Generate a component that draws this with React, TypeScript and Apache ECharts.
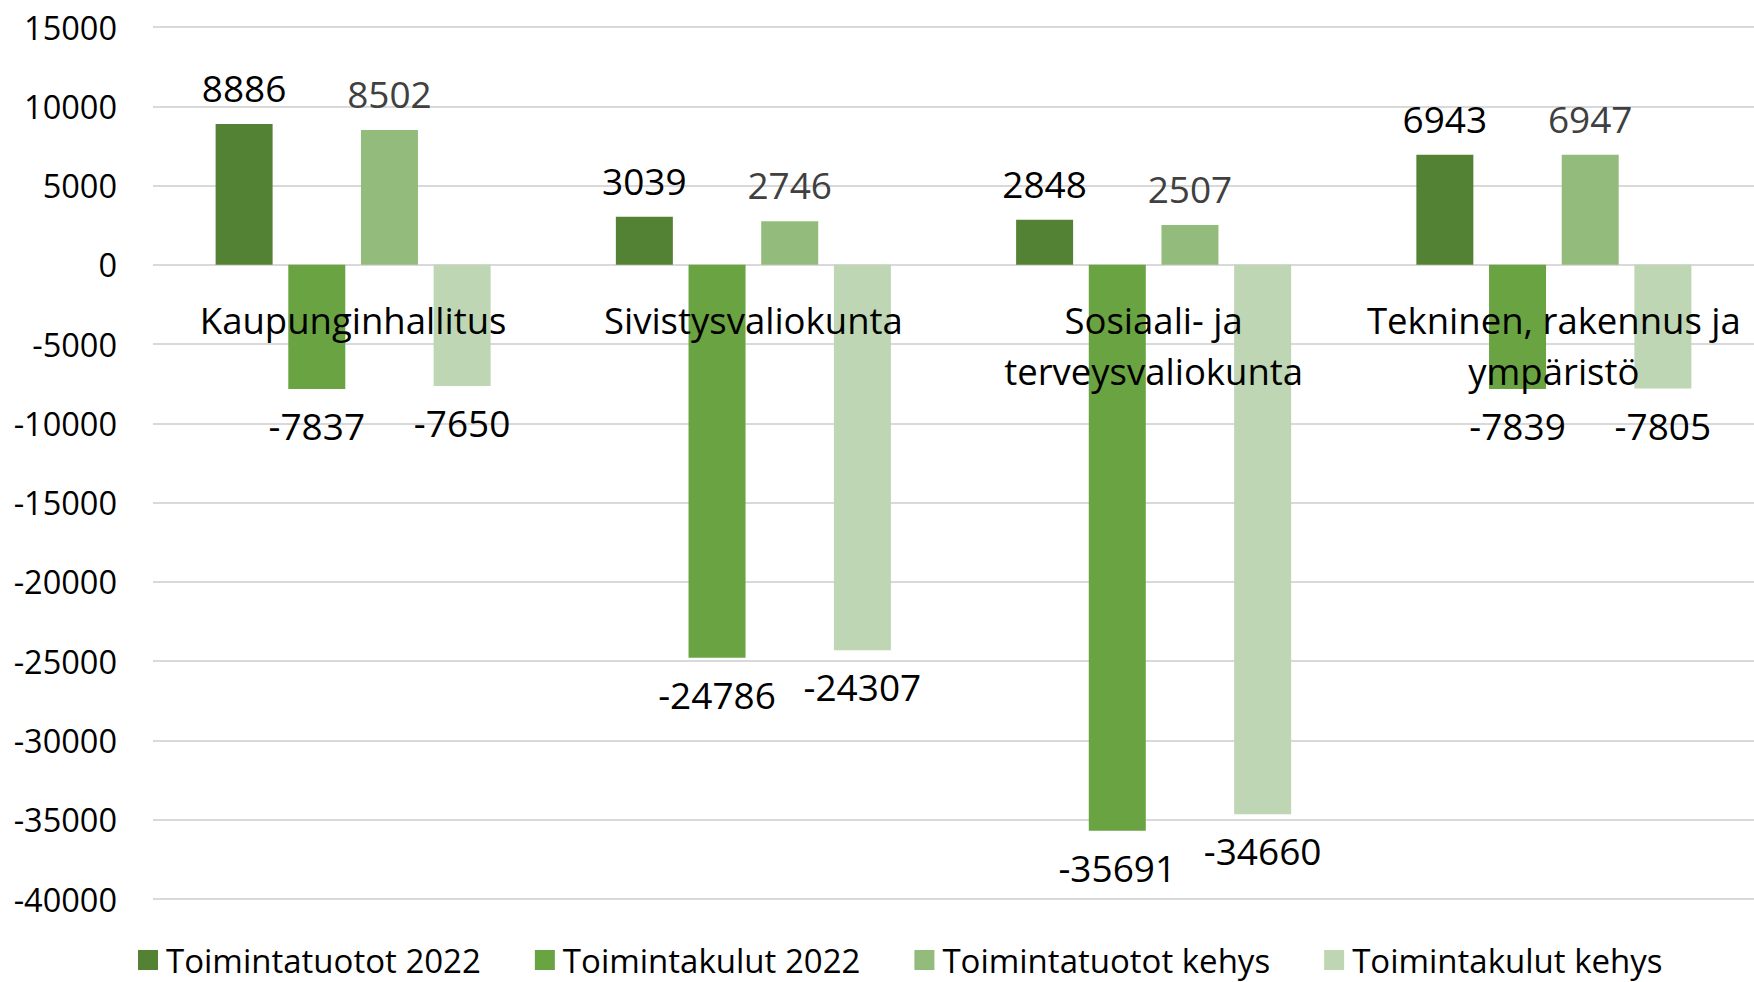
import React, { useEffect, useRef } from "react";
import * as echarts from "echarts";

const categories = [
  "Kaupunginhallitus",
  "Sivistysvaliokunta",
  "Sosiaali- ja\nterveysvaliokunta",
  "Tekninen, rakennus ja\nympäristö",
];
const seriesNames = [
  "Toimintatuotot 2022",
  "Toimintakulut 2022",
  "Toimintatuotot kehys",
  "Toimintakulut kehys",
];
const tuotot2022 = [8886, 3039, 2848, 6943];
const kulut2022 = [-7837, -24786, -35691, -7839];
const tuototKehys = [8502, 2746, 2507, 6947];
const kulutKehys = [-7650, -24307, -34660, -7805];
const yTicks = { min: -40000, max: 15000, interval: 5000 };

const colors = ["#548235", "#6AA342", "#93BC7C", "#BED6B3"];
const labelColors = ["#000000", "#000000", "#404040", "#000000"];
const FONT = "Open Sans";

export default function App() {
  const ref = useRef<HTMLDivElement>(null);
  useEffect(() => {
    if (!ref.current) return;
    const chart = echarts.init(ref.current, undefined, { renderer: "svg" });
    const datasets = [tuotot2022, kulut2022, tuototKehys, kulutKehys];
    const barSeries = datasets.map((d, i) => ({
      name: seriesNames[i],
      type: "bar",
      data: d,
      z: 2,
      barWidth: 57,
      barGap: "27.5%",
      itemStyle: { color: colors[i] },
      label: {
        show: true,
        position: i % 2 === 0 ? "top" : "bottom",
        distance: 18,
        fontFamily: FONT,
        fontSize: 37,
        lineHeight: 37,
        color: labelColors[i],
      },
    }));
    const categoryLabelSeries = {
      name: "categoryLabels",
      type: "custom",
      z: 10,
      silent: true,
      data: categories.map((_, i) => [i, 0]),
      encode: { x: 0, y: 1 },
      renderItem: (params: any, api: any) => {
        const p = api.coord([api.value(0), 0]);
        return {
          type: "text",
          x: p[0],
          y: p[1] + 30,
          z2: 100,
          style: {
            text: categories[params.dataIndex],
            fontFamily: FONT,
            fontSize: 36.5,
            lineHeight: 51,
            fill: "#000",
            align: "center",
            verticalAlign: "top",
          },
        };
      },
    };
    chart.setOption({
      animation: false,
      backgroundColor: "#ffffff",
      textStyle: { fontFamily: FONT },
      grid: {
        left: 153,
        right: 0,
        top: 27,
        bottom: 83,
        containLabel: false,
        outerBoundsMode: "none",
      },
      legend: {
        data: seriesNames,
        left: 138,
        top: 942,
        padding: 0,
        itemWidth: 20,
        itemHeight: 20,
        itemGap: 54,
        icon: "rect",
        textStyle: {
          fontFamily: FONT,
          fontSize: 33,
          color: "#000",
          lineHeight: 36,
          padding: [0, 0, 0, 3],
        },
      },
      xAxis: {
        type: "category",
        data: categories,
        axisLine: { show: false },
        axisTick: { show: false },
        axisLabel: { show: false },
      },
      yAxis: {
        type: "value",
        min: yTicks.min,
        max: yTicks.max,
        interval: yTicks.interval,
        axisLine: { show: false },
        axisTick: { show: false },
        splitLine: { lineStyle: { color: "#D9D9D9", width: 2 } },
        axisLabel: {
          fontFamily: FONT,
          fontSize: 32.5,
          color: "#000",
          margin: 36,
          formatter: (v: number) => String(v),
        },
      },
      series: [...barSeries, categoryLabelSeries],
    });
    return () => chart.dispose();
  }, []);
  return (
    <div
      ref={ref}
      style={{ position: "fixed", left: 0, top: 0, width: 1754, height: 982 }}
    />
  );
}
